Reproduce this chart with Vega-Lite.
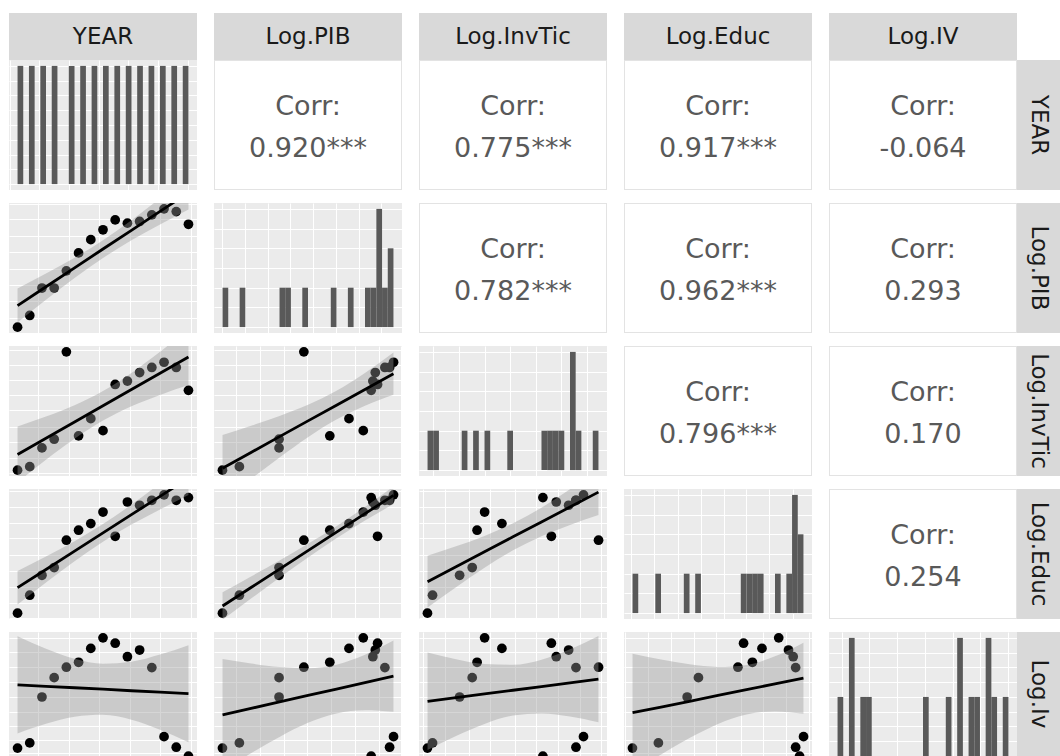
{
  "$schema": "https://vega.github.io/schema/vega-lite/v6.json",
  "padding": {"left": 9, "top": 13, "right": 0, "bottom": 0},
  "background": "white",
  "config": {
    "view": {"stroke": null},
    "font": "DejaVu Sans",
    "axis": {"grid": true, "gridColor": "white", "gridWidth": 1, "gridOpacity": 1, "labels": false, "ticks": false, "domain": false}
  },
  "datasets": {
    "obs": [
      {"YEAR": 2003, "PIB": 4.5, "InvTic": 4.5, "Educ": 4.5, "IV": 10.7},
      {"YEAR": 2004, "PIB": 13.5, "InvTic": 7.2, "Educ": 18.3, "IV": 14.7},
      {"YEAR": 2005, "PIB": 34.6, "InvTic": 21.6, "Educ": 33.6, "IV": 50.0},
      {"YEAR": 2006, "PIB": 34.6, "InvTic": 28.3, "Educ": 39.6, "IV": 64.9},
      {"YEAR": 2007, "PIB": 47.8, "InvTic": 95.5, "Educ": 60.6, "IV": 72.9},
      {"YEAR": 2008, "PIB": 61.6, "InvTic": 30.9, "Educ": 68.3, "IV": 76.7},
      {"YEAR": 2009, "PIB": 71.8, "InvTic": 44.1, "Educ": 73.4, "IV": 87.4},
      {"YEAR": 2010, "PIB": 79.4, "InvTic": 34.9, "Educ": 82.3, "IV": 95.5},
      {"YEAR": 2011, "PIB": 87.0, "InvTic": 70.4, "Educ": 63.6, "IV": 91.4},
      {"YEAR": 2012, "PIB": 84.5, "InvTic": 73.0, "Educ": 90.0, "IV": 81.0},
      {"YEAR": 2013, "PIB": 85.8, "InvTic": 79.6, "Educ": 87.5, "IV": 86.1},
      {"YEAR": 2014, "PIB": 90.9, "InvTic": 83.5, "Educ": 91.3, "IV": 72.6},
      {"YEAR": 2015, "PIB": 95.5, "InvTic": 87.5, "Educ": 95.5, "IV": 19.5},
      {"YEAR": 2016, "PIB": 93.4, "InvTic": 83.5, "Educ": 91.3, "IV": 11.4},
      {"YEAR": 2017, "PIB": 83.6, "InvTic": 65.9, "Educ": 93.4, "IV": 4.5}
    ],
    "fit": [
      {"p": "PIB~YEAR", "x": 2003, "fit": 21.1, "lo": 8.1, "hi": 34.2},
      {"p": "PIB~YEAR", "x": 2005.33, "fit": 35.6, "lo": 25.5, "hi": 45.7},
      {"p": "PIB~YEAR", "x": 2007.67, "fit": 50.1, "lo": 42.3, "hi": 57.9},
      {"p": "PIB~YEAR", "x": 2010, "fit": 64.6, "lo": 57.7, "hi": 71.4},
      {"p": "PIB~YEAR", "x": 2012.33, "fit": 79.0, "lo": 71.3, "hi": 86.8},
      {"p": "PIB~YEAR", "x": 2014.67, "fit": 93.5, "lo": 83.4, "hi": 103.6},
      {"p": "PIB~YEAR", "x": 2017, "fit": 108.0, "lo": 95.0, "hi": 121.0},
      {"p": "InvTic~YEAR", "x": 2003, "fit": 16.6, "lo": -4.9, "hi": 38.1},
      {"p": "InvTic~YEAR", "x": 2005.33, "fit": 29.1, "lo": 12.5, "hi": 45.7},
      {"p": "InvTic~YEAR", "x": 2007.67, "fit": 41.5, "lo": 28.7, "hi": 54.4},
      {"p": "InvTic~YEAR", "x": 2010, "fit": 54.0, "lo": 42.7, "hi": 65.3},
      {"p": "InvTic~YEAR", "x": 2012.33, "fit": 66.5, "lo": 53.7, "hi": 79.3},
      {"p": "InvTic~YEAR", "x": 2014.67, "fit": 79.0, "lo": 62.4, "hi": 95.6},
      {"p": "InvTic~YEAR", "x": 2017, "fit": 91.5, "lo": 70.0, "hi": 113.0},
      {"p": "InvTic~PIB", "x": 4.55, "fit": 6.0, "lo": -19.5, "hi": 31.5},
      {"p": "InvTic~PIB", "x": 19.7, "fit": 18.1, "lo": -2.3, "hi": 38.6},
      {"p": "InvTic~PIB", "x": 34.85, "fit": 30.3, "lo": 14.3, "hi": 46.2},
      {"p": "InvTic~PIB", "x": 50, "fit": 42.4, "lo": 29.9, "hi": 54.8},
      {"p": "InvTic~PIB", "x": 65.15, "fit": 54.5, "lo": 43.4, "hi": 65.6},
      {"p": "InvTic~PIB", "x": 80.3, "fit": 66.6, "lo": 54.0, "hi": 79.3},
      {"p": "InvTic~PIB", "x": 95.45, "fit": 78.7, "lo": 62.5, "hi": 95.0},
      {"p": "Educ~YEAR", "x": 2003, "fit": 24.1, "lo": 11.2, "hi": 37.0},
      {"p": "Educ~YEAR", "x": 2005.33, "fit": 38.1, "lo": 28.1, "hi": 48.1},
      {"p": "Educ~YEAR", "x": 2007.67, "fit": 52.2, "lo": 44.5, "hi": 59.9},
      {"p": "Educ~YEAR", "x": 2010, "fit": 66.2, "lo": 59.4, "hi": 73.0},
      {"p": "Educ~YEAR", "x": 2012.33, "fit": 80.3, "lo": 72.6, "hi": 88.0},
      {"p": "Educ~YEAR", "x": 2014.67, "fit": 94.3, "lo": 84.3, "hi": 104.3},
      {"p": "Educ~YEAR", "x": 2017, "fit": 108.4, "lo": 95.4, "hi": 121.3},
      {"p": "Educ~PIB", "x": 4.55, "fit": 10.0, "lo": -0.6, "hi": 20.6},
      {"p": "Educ~PIB", "x": 19.7, "fit": 24.2, "lo": 15.7, "hi": 32.7},
      {"p": "Educ~PIB", "x": 34.85, "fit": 38.4, "lo": 31.8, "hi": 45.0},
      {"p": "Educ~PIB", "x": 50, "fit": 52.6, "lo": 47.4, "hi": 57.8},
      {"p": "Educ~PIB", "x": 65.15, "fit": 66.8, "lo": 62.1, "hi": 71.4},
      {"p": "Educ~PIB", "x": 80.3, "fit": 81.0, "lo": 75.7, "hi": 86.2},
      {"p": "Educ~PIB", "x": 95.45, "fit": 95.1, "lo": 88.4, "hi": 101.9},
      {"p": "Educ~InvTic", "x": 4.55, "fit": 28.7, "lo": 8.8, "hi": 48.7},
      {"p": "Educ~InvTic", "x": 19.7, "fit": 40.2, "lo": 24.5, "hi": 55.9},
      {"p": "Educ~InvTic", "x": 34.85, "fit": 51.7, "lo": 39.5, "hi": 63.9},
      {"p": "Educ~InvTic", "x": 50, "fit": 63.2, "lo": 52.8, "hi": 73.6},
      {"p": "Educ~InvTic", "x": 65.15, "fit": 74.6, "lo": 63.7, "hi": 85.6},
      {"p": "Educ~InvTic", "x": 80.3, "fit": 86.1, "lo": 72.4, "hi": 99.8},
      {"p": "Educ~InvTic", "x": 95.45, "fit": 97.6, "lo": 80.0, "hi": 115.2},
      {"p": "IV~YEAR", "x": 2003, "fit": 59.4, "lo": 22.0, "hi": 96.7},
      {"p": "IV~YEAR", "x": 2005.33, "fit": 58.2, "lo": 29.4, "hi": 87.1},
      {"p": "IV~YEAR", "x": 2007.67, "fit": 57.1, "lo": 34.8, "hi": 79.4},
      {"p": "IV~YEAR", "x": 2010, "fit": 56.0, "lo": 36.3, "hi": 75.6},
      {"p": "IV~YEAR", "x": 2012.33, "fit": 54.8, "lo": 32.5, "hi": 77.1},
      {"p": "IV~YEAR", "x": 2014.67, "fit": 53.7, "lo": 24.8, "hi": 82.6},
      {"p": "IV~YEAR", "x": 2017, "fit": 52.6, "lo": 15.2, "hi": 89.9},
      {"p": "IV~PIB", "x": 4.55, "fit": 36.2, "lo": -6.8, "hi": 79.2},
      {"p": "IV~PIB", "x": 19.7, "fit": 41.2, "lo": 6.7, "hi": 75.7},
      {"p": "IV~PIB", "x": 34.85, "fit": 46.2, "lo": 19.3, "hi": 73.0},
      {"p": "IV~PIB", "x": 50, "fit": 51.2, "lo": 30.1, "hi": 72.2},
      {"p": "IV~PIB", "x": 65.15, "fit": 56.1, "lo": 37.3, "hi": 74.9},
      {"p": "IV~PIB", "x": 80.3, "fit": 61.1, "lo": 39.8, "hi": 82.5},
      {"p": "IV~PIB", "x": 95.45, "fit": 66.1, "lo": 38.7, "hi": 93.5},
      {"p": "IV~InvTic", "x": 4.55, "fit": 46.7, "lo": 9.2, "hi": 84.2},
      {"p": "IV~InvTic", "x": 19.7, "fit": 49.5, "lo": 20.0, "hi": 79.1},
      {"p": "IV~InvTic", "x": 34.85, "fit": 52.4, "lo": 29.3, "hi": 75.4},
      {"p": "IV~InvTic", "x": 50, "fit": 55.2, "lo": 35.7, "hi": 74.8},
      {"p": "IV~InvTic", "x": 65.15, "fit": 58.0, "lo": 37.3, "hi": 78.7},
      {"p": "IV~InvTic", "x": 80.3, "fit": 60.9, "lo": 35.0, "hi": 86.7},
      {"p": "IV~InvTic", "x": 95.45, "fit": 63.7, "lo": 30.6, "hi": 96.9},
      {"p": "IV~Educ", "x": 4.55, "fit": 37.9, "lo": -7.6, "hi": 83.3},
      {"p": "IV~Educ", "x": 19.7, "fit": 42.3, "lo": 5.8, "hi": 78.8},
      {"p": "IV~Educ", "x": 34.85, "fit": 46.7, "lo": 18.4, "hi": 75.1},
      {"p": "IV~Educ", "x": 50, "fit": 51.2, "lo": 29.3, "hi": 73.1},
      {"p": "IV~Educ", "x": 65.15, "fit": 55.6, "lo": 36.6, "hi": 74.7},
      {"p": "IV~Educ", "x": 80.3, "fit": 60.1, "lo": 38.9, "hi": 81.3},
      {"p": "IV~Educ", "x": 95.45, "fit": 64.5, "lo": 37.2, "hi": 91.8}
    ],
    "hist": [
      {"v": "YEAR", "bin": 0, "bin_end": 1, "count": 1},
      {"v": "YEAR", "bin": 2, "bin_end": 3, "count": 1},
      {"v": "YEAR", "bin": 4, "bin_end": 5, "count": 1},
      {"v": "YEAR", "bin": 6, "bin_end": 7, "count": 1},
      {"v": "YEAR", "bin": 9, "bin_end": 10, "count": 1},
      {"v": "YEAR", "bin": 11, "bin_end": 12, "count": 1},
      {"v": "YEAR", "bin": 13, "bin_end": 14, "count": 1},
      {"v": "YEAR", "bin": 15, "bin_end": 16, "count": 1},
      {"v": "YEAR", "bin": 17, "bin_end": 18, "count": 1},
      {"v": "YEAR", "bin": 19, "bin_end": 20, "count": 1},
      {"v": "YEAR", "bin": 21, "bin_end": 22, "count": 1},
      {"v": "YEAR", "bin": 23, "bin_end": 24, "count": 1},
      {"v": "YEAR", "bin": 25, "bin_end": 26, "count": 1},
      {"v": "YEAR", "bin": 27, "bin_end": 28, "count": 1},
      {"v": "YEAR", "bin": 29, "bin_end": 30, "count": 1},
      {"v": "PIB", "bin": 0, "bin_end": 1, "count": 1},
      {"v": "PIB", "bin": 3, "bin_end": 4, "count": 1},
      {"v": "PIB", "bin": 10, "bin_end": 11, "count": 1},
      {"v": "PIB", "bin": 11, "bin_end": 12, "count": 1},
      {"v": "PIB", "bin": 14, "bin_end": 15, "count": 1},
      {"v": "PIB", "bin": 19, "bin_end": 20, "count": 1},
      {"v": "PIB", "bin": 22, "bin_end": 23, "count": 1},
      {"v": "PIB", "bin": 25, "bin_end": 26, "count": 1},
      {"v": "PIB", "bin": 26, "bin_end": 27, "count": 1},
      {"v": "PIB", "bin": 27, "bin_end": 28, "count": 3},
      {"v": "PIB", "bin": 28, "bin_end": 29, "count": 1},
      {"v": "PIB", "bin": 29, "bin_end": 30, "count": 2},
      {"v": "InvTic", "bin": 0, "bin_end": 1, "count": 1},
      {"v": "InvTic", "bin": 1, "bin_end": 2, "count": 1},
      {"v": "InvTic", "bin": 6, "bin_end": 7, "count": 1},
      {"v": "InvTic", "bin": 8, "bin_end": 9, "count": 1},
      {"v": "InvTic", "bin": 10, "bin_end": 11, "count": 1},
      {"v": "InvTic", "bin": 14, "bin_end": 15, "count": 1},
      {"v": "InvTic", "bin": 20, "bin_end": 21, "count": 1},
      {"v": "InvTic", "bin": 21, "bin_end": 22, "count": 1},
      {"v": "InvTic", "bin": 22, "bin_end": 23, "count": 1},
      {"v": "InvTic", "bin": 23, "bin_end": 24, "count": 1},
      {"v": "InvTic", "bin": 25, "bin_end": 26, "count": 3},
      {"v": "InvTic", "bin": 26, "bin_end": 27, "count": 1},
      {"v": "InvTic", "bin": 29, "bin_end": 30, "count": 1},
      {"v": "Educ", "bin": 0, "bin_end": 1, "count": 1},
      {"v": "Educ", "bin": 4, "bin_end": 5, "count": 1},
      {"v": "Educ", "bin": 9, "bin_end": 10, "count": 1},
      {"v": "Educ", "bin": 11, "bin_end": 12, "count": 1},
      {"v": "Educ", "bin": 19, "bin_end": 20, "count": 1},
      {"v": "Educ", "bin": 20, "bin_end": 21, "count": 1},
      {"v": "Educ", "bin": 21, "bin_end": 22, "count": 1},
      {"v": "Educ", "bin": 22, "bin_end": 23, "count": 1},
      {"v": "Educ", "bin": 25, "bin_end": 26, "count": 1},
      {"v": "Educ", "bin": 27, "bin_end": 28, "count": 1},
      {"v": "Educ", "bin": 28, "bin_end": 29, "count": 3},
      {"v": "Educ", "bin": 29, "bin_end": 30, "count": 2},
      {"v": "IV", "bin": 0, "bin_end": 1, "count": 1},
      {"v": "IV", "bin": 2, "bin_end": 3, "count": 2},
      {"v": "IV", "bin": 4, "bin_end": 5, "count": 1},
      {"v": "IV", "bin": 5, "bin_end": 6, "count": 1},
      {"v": "IV", "bin": 15, "bin_end": 16, "count": 1},
      {"v": "IV", "bin": 19, "bin_end": 20, "count": 1},
      {"v": "IV", "bin": 21, "bin_end": 22, "count": 2},
      {"v": "IV", "bin": 23, "bin_end": 24, "count": 1},
      {"v": "IV", "bin": 24, "bin_end": 25, "count": 1},
      {"v": "IV", "bin": 26, "bin_end": 27, "count": 2},
      {"v": "IV", "bin": 27, "bin_end": 28, "count": 1},
      {"v": "IV", "bin": 29, "bin_end": 30, "count": 1}
    ],
    "corr": [
      {"p": "YEAR~PIB", "label": "Corr:\n0.920***"},
      {"p": "YEAR~InvTic", "label": "Corr:\n0.775***"},
      {"p": "YEAR~Educ", "label": "Corr:\n0.917***"},
      {"p": "YEAR~IV", "label": "Corr:\n-0.064"},
      {"p": "PIB~InvTic", "label": "Corr:\n0.782***"},
      {"p": "PIB~Educ", "label": "Corr:\n0.962***"},
      {"p": "PIB~IV", "label": "Corr:\n0.293"},
      {"p": "InvTic~Educ", "label": "Corr:\n0.796***"},
      {"p": "InvTic~IV", "label": "Corr:\n0.170"},
      {"p": "Educ~IV", "label": "Corr:\n0.254"}
    ],
    "strips": [
      {"id": "c1", "label": "YEAR"},
      {"id": "c2", "label": "Log.PIB"},
      {"id": "c3", "label": "Log.InvTic"},
      {"id": "c4", "label": "Log.Educ"},
      {"id": "c5", "label": "Log.IV"},
      {"id": "r1", "label": "YEAR"},
      {"id": "r2", "label": "Log.PIB"},
      {"id": "r3", "label": "Log.InvTic"},
      {"id": "r4", "label": "Log.Educ"},
      {"id": "r5", "label": "Log.Iv"}
    ]
  },
  "vconcat": [
    {
      "vconcat": [
        {
          "hconcat": [
            {"width": 188, "height": 47, "view": {"fill": "#D9D9D9", "stroke": null}, "data": {"name": "strips"}, "transform": [{"filter": "datum.id == 'c1'"}], "mark": {"type": "text", "font": "DejaVu Sans", "fontSize": 23, "color": "#1A1A1A", "align": "center", "baseline": "middle"}, "encoding": {"text": {"field": "label"}}},
            {"width": 188, "height": 47, "view": {"fill": "#D9D9D9", "stroke": null}, "data": {"name": "strips"}, "transform": [{"filter": "datum.id == 'c2'"}], "mark": {"type": "text", "font": "DejaVu Sans", "fontSize": 23, "color": "#1A1A1A", "align": "center", "baseline": "middle"}, "encoding": {"text": {"field": "label"}}},
            {"width": 188, "height": 47, "view": {"fill": "#D9D9D9", "stroke": null}, "data": {"name": "strips"}, "transform": [{"filter": "datum.id == 'c3'"}], "mark": {"type": "text", "font": "DejaVu Sans", "fontSize": 23, "color": "#1A1A1A", "align": "center", "baseline": "middle"}, "encoding": {"text": {"field": "label"}}},
            {"width": 188, "height": 47, "view": {"fill": "#D9D9D9", "stroke": null}, "data": {"name": "strips"}, "transform": [{"filter": "datum.id == 'c4'"}], "mark": {"type": "text", "font": "DejaVu Sans", "fontSize": 23, "color": "#1A1A1A", "align": "center", "baseline": "middle"}, "encoding": {"text": {"field": "label"}}},
            {"width": 188, "height": 47, "view": {"fill": "#D9D9D9", "stroke": null}, "data": {"name": "strips"}, "transform": [{"filter": "datum.id == 'c5'"}], "mark": {"type": "text", "font": "DejaVu Sans", "fontSize": 23, "color": "#1A1A1A", "align": "center", "baseline": "middle"}, "encoding": {"text": {"field": "label"}}}
          ],
          "spacing": 17
        },
        {
          "hconcat": [
            {"width": 188, "height": 130, "view": {"fill": "#EBEBEB", "stroke": null}, "data": {"name": "hist"}, "transform": [{"filter": "datum.v == 'YEAR'"}],
             "mark": {"type": "rect", "color": "#595959", "clip": true},
             "encoding": {
               "x": {"field": "bin", "type": "quantitative", "scale": {"domain": [-1.5, 31.5], "nice": false, "zero": false}, "axis": {"values": [-1.35, 3.85, 9.05, 14.25, 19.45, 24.65, 29.85], "title": null}},
               "x2": {"field": "bin_end"},
               "y": {"field": "count", "type": "quantitative", "scale": {"domain": [-0.05, 1.05], "nice": false, "zero": false}, "axis": {"values": [0, 0.125, 0.25, 0.375, 0.5, 0.625, 0.75, 0.875, 1], "title": null}},
               "y2": {"datum": 0}}},
            {"width": 188, "height": 130, "view": {"fill": "white", "stroke": null}, "data": {"name": "corr"}, "transform": [{"filter": "datum.p == 'YEAR~PIB'"}],
             "layer": [
               {"mark": {"type": "rect", "fill": "white", "stroke": "#E3E3E3", "strokeWidth": 2, "clip": true}, "encoding": {}},
               {"mark": {"type": "text", "font": "DejaVu Sans", "fontSize": 27, "color": "#595959", "lineBreak": "\n", "lineHeight": 42, "dy": -18, "align": "center", "baseline": "middle"}, "encoding": {"text": {"field": "label"}}}
             ]},
            {"width": 188, "height": 130, "view": {"fill": "white", "stroke": null}, "data": {"name": "corr"}, "transform": [{"filter": "datum.p == 'YEAR~InvTic'"}],
             "layer": [
               {"mark": {"type": "rect", "fill": "white", "stroke": "#E3E3E3", "strokeWidth": 2, "clip": true}, "encoding": {}},
               {"mark": {"type": "text", "font": "DejaVu Sans", "fontSize": 27, "color": "#595959", "lineBreak": "\n", "lineHeight": 42, "dy": -18, "align": "center", "baseline": "middle"}, "encoding": {"text": {"field": "label"}}}
             ]},
            {"width": 188, "height": 130, "view": {"fill": "white", "stroke": null}, "data": {"name": "corr"}, "transform": [{"filter": "datum.p == 'YEAR~Educ'"}],
             "layer": [
               {"mark": {"type": "rect", "fill": "white", "stroke": "#E3E3E3", "strokeWidth": 2, "clip": true}, "encoding": {}},
               {"mark": {"type": "text", "font": "DejaVu Sans", "fontSize": 27, "color": "#595959", "lineBreak": "\n", "lineHeight": 42, "dy": -18, "align": "center", "baseline": "middle"}, "encoding": {"text": {"field": "label"}}}
             ]},
            {
              "hconcat": [
                {"width": 188, "height": 130, "view": {"fill": "white", "stroke": null}, "data": {"name": "corr"}, "transform": [{"filter": "datum.p == 'YEAR~IV'"}],
                 "layer": [
                   {"mark": {"type": "rect", "fill": "white", "stroke": "#E3E3E3", "strokeWidth": 2, "clip": true}, "encoding": {}},
                   {"mark": {"type": "text", "font": "DejaVu Sans", "fontSize": 27, "color": "#595959", "lineBreak": "\n", "lineHeight": 42, "dy": -18, "align": "center", "baseline": "middle"}, "encoding": {"text": {"field": "label"}}}
                 ]},
                {"width": 43, "height": 130, "view": {"fill": "#D9D9D9", "stroke": null}, "data": {"name": "strips"}, "transform": [{"filter": "datum.id == 'r1'"}], "mark": {"type": "text", "font": "DejaVu Sans", "fontSize": 23, "color": "#1A1A1A", "angle": 90, "align": "center", "baseline": "middle"}, "encoding": {"text": {"field": "label"}}}
              ],
              "spacing": 0
            }
          ],
          "spacing": 17
        }
      ],
      "spacing": 0
    },
    {
      "hconcat": [
        {"width": 188, "height": 130, "view": {"fill": "#EBEBEB", "stroke": null},
         "layer": [
           {"data": {"name": "obs"}, "mark": {"type": "circle", "size": 95, "color": "#000000", "opacity": 1, "clip": true},
            "encoding": {"x": {"field": "YEAR", "type": "quantitative", "scale": {"domain": [2002.3, 2017.7], "nice": false, "zero": false}, "axis": {"values": [2004.7, 2007.2, 2009.7, 2012.2, 2014.7, 2017.2], "title": null}},
                         "y": {"field": "PIB", "type": "quantitative", "scale": {"domain": [0, 100], "nice": false, "zero": false}, "axis": {"values": [11.7, 24.4, 37.0, 49.6, 62.3, 75.0, 87.6, 99.3], "title": null}}}},
           {"data": {"name": "fit"}, "transform": [{"filter": "datum.p == 'PIB~YEAR'"}], "mark": {"type": "area", "color": "#999999", "opacity": 0.4, "interpolate": "monotone", "clip": true},
            "encoding": {"x": {"field": "x", "type": "quantitative", "scale": {"domain": [2002.3, 2017.7], "nice": false, "zero": false}, "axis": {"values": [2004.7, 2007.2, 2009.7, 2012.2, 2014.7, 2017.2], "title": null}},
                         "y": {"field": "lo", "type": "quantitative", "scale": {"domain": [0, 100], "nice": false, "zero": false}, "axis": {"values": [11.7, 24.4, 37.0, 49.6, 62.3, 75.0, 87.6, 99.3], "title": null}}, "y2": {"field": "hi"}}},
           {"data": {"name": "fit"}, "transform": [{"filter": "datum.p == 'PIB~YEAR'"}], "mark": {"type": "line", "color": "#000000", "strokeWidth": 2.8, "clip": true},
            "encoding": {"x": {"field": "x", "type": "quantitative", "scale": {"domain": [2002.3, 2017.7], "nice": false, "zero": false}, "axis": {"values": [2004.7, 2007.2, 2009.7, 2012.2, 2014.7, 2017.2], "title": null}},
                         "y": {"field": "fit", "type": "quantitative", "scale": {"domain": [0, 100], "nice": false, "zero": false}, "axis": {"values": [11.7, 24.4, 37.0, 49.6, 62.3, 75.0, 87.6, 99.3], "title": null}}}}
         ]},
        {"width": 188, "height": 130, "view": {"fill": "#EBEBEB", "stroke": null}, "data": {"name": "hist"}, "transform": [{"filter": "datum.v == 'PIB'"}],
         "mark": {"type": "rect", "color": "#595959", "clip": true},
         "encoding": {
           "x": {"field": "bin", "type": "quantitative", "scale": {"domain": [-1.5, 31.5], "nice": false, "zero": false}, "axis": {"values": [-0.1, 3.9, 7.9, 11.9, 15.9, 19.9, 23.9, 27.9], "title": null}},
           "x2": {"field": "bin_end"},
           "y": {"field": "count", "type": "quantitative", "scale": {"domain": [-0.15, 3.15], "nice": false, "zero": false}, "axis": {"values": [0, 0.5, 1, 1.5, 2, 2.5, 3], "title": null}},
           "y2": {"datum": 0}}},
        {"width": 188, "height": 130, "view": {"fill": "white", "stroke": null}, "data": {"name": "corr"}, "transform": [{"filter": "datum.p == 'PIB~InvTic'"}],
         "layer": [
           {"mark": {"type": "rect", "fill": "white", "stroke": "#E3E3E3", "strokeWidth": 2, "clip": true}, "encoding": {}},
           {"mark": {"type": "text", "font": "DejaVu Sans", "fontSize": 27, "color": "#595959", "lineBreak": "\n", "lineHeight": 42, "dy": -18, "align": "center", "baseline": "middle"}, "encoding": {"text": {"field": "label"}}}
         ]},
        {"width": 188, "height": 130, "view": {"fill": "white", "stroke": null}, "data": {"name": "corr"}, "transform": [{"filter": "datum.p == 'PIB~Educ'"}],
         "layer": [
           {"mark": {"type": "rect", "fill": "white", "stroke": "#E3E3E3", "strokeWidth": 2, "clip": true}, "encoding": {}},
           {"mark": {"type": "text", "font": "DejaVu Sans", "fontSize": 27, "color": "#595959", "lineBreak": "\n", "lineHeight": 42, "dy": -18, "align": "center", "baseline": "middle"}, "encoding": {"text": {"field": "label"}}}
         ]},
        {
          "hconcat": [
            {"width": 188, "height": 130, "view": {"fill": "white", "stroke": null}, "data": {"name": "corr"}, "transform": [{"filter": "datum.p == 'PIB~IV'"}],
             "layer": [
               {"mark": {"type": "rect", "fill": "white", "stroke": "#E3E3E3", "strokeWidth": 2, "clip": true}, "encoding": {}},
               {"mark": {"type": "text", "font": "DejaVu Sans", "fontSize": 27, "color": "#595959", "lineBreak": "\n", "lineHeight": 42, "dy": -18, "align": "center", "baseline": "middle"}, "encoding": {"text": {"field": "label"}}}
             ]},
            {"width": 43, "height": 130, "view": {"fill": "#D9D9D9", "stroke": null}, "data": {"name": "strips"}, "transform": [{"filter": "datum.id == 'r2'"}], "mark": {"type": "text", "font": "DejaVu Sans", "fontSize": 23, "color": "#1A1A1A", "angle": 90, "align": "center", "baseline": "middle"}, "encoding": {"text": {"field": "label"}}}
          ],
          "spacing": 0
        }
      ],
      "spacing": 17
    },
    {
      "hconcat": [
        {"width": 188, "height": 130, "view": {"fill": "#EBEBEB", "stroke": null},
         "layer": [
           {"data": {"name": "obs"}, "mark": {"type": "circle", "size": 95, "color": "#000000", "opacity": 1, "clip": true},
            "encoding": {"x": {"field": "YEAR", "type": "quantitative", "scale": {"domain": [2002.3, 2017.7], "nice": false, "zero": false}, "axis": {"values": [2004.7, 2007.2, 2009.7, 2012.2, 2014.7, 2017.2], "title": null}},
                         "y": {"field": "InvTic", "type": "quantitative", "scale": {"domain": [0, 100], "nice": false, "zero": false}, "axis": {"values": [2.1, 13.6, 26.4, 37.9, 50.8, 62.3, 73.8, 85.4, 97.0], "title": null}}}},
           {"data": {"name": "fit"}, "transform": [{"filter": "datum.p == 'InvTic~YEAR'"}], "mark": {"type": "area", "color": "#999999", "opacity": 0.4, "interpolate": "monotone", "clip": true},
            "encoding": {"x": {"field": "x", "type": "quantitative", "scale": {"domain": [2002.3, 2017.7], "nice": false, "zero": false}, "axis": {"values": [2004.7, 2007.2, 2009.7, 2012.2, 2014.7, 2017.2], "title": null}},
                         "y": {"field": "lo", "type": "quantitative", "scale": {"domain": [0, 100], "nice": false, "zero": false}, "axis": {"values": [2.1, 13.6, 26.4, 37.9, 50.8, 62.3, 73.8, 85.4, 97.0], "title": null}}, "y2": {"field": "hi"}}},
           {"data": {"name": "fit"}, "transform": [{"filter": "datum.p == 'InvTic~YEAR'"}], "mark": {"type": "line", "color": "#000000", "strokeWidth": 2.8, "clip": true},
            "encoding": {"x": {"field": "x", "type": "quantitative", "scale": {"domain": [2002.3, 2017.7], "nice": false, "zero": false}, "axis": {"values": [2004.7, 2007.2, 2009.7, 2012.2, 2014.7, 2017.2], "title": null}},
                         "y": {"field": "fit", "type": "quantitative", "scale": {"domain": [0, 100], "nice": false, "zero": false}, "axis": {"values": [2.1, 13.6, 26.4, 37.9, 50.8, 62.3, 73.8, 85.4, 97.0], "title": null}}}}
         ]},
        {"width": 188, "height": 130, "view": {"fill": "#EBEBEB", "stroke": null},
         "layer": [
           {"data": {"name": "obs"}, "mark": {"type": "circle", "size": 95, "color": "#000000", "opacity": 1, "clip": true},
            "encoding": {"x": {"field": "PIB", "type": "quantitative", "scale": {"domain": [0, 100], "nice": false, "zero": false}, "axis": {"values": [11.7, 24.4, 37.0, 49.6, 62.3, 75.0, 87.6, 99.3], "title": null}},
                         "y": {"field": "InvTic", "type": "quantitative", "scale": {"domain": [0, 100], "nice": false, "zero": false}, "axis": {"values": [2.1, 13.6, 26.4, 37.9, 50.8, 62.3, 73.8, 85.4, 97.0], "title": null}}}},
           {"data": {"name": "fit"}, "transform": [{"filter": "datum.p == 'InvTic~PIB'"}], "mark": {"type": "area", "color": "#999999", "opacity": 0.4, "interpolate": "monotone", "clip": true},
            "encoding": {"x": {"field": "x", "type": "quantitative", "scale": {"domain": [0, 100], "nice": false, "zero": false}, "axis": {"values": [11.7, 24.4, 37.0, 49.6, 62.3, 75.0, 87.6, 99.3], "title": null}},
                         "y": {"field": "lo", "type": "quantitative", "scale": {"domain": [0, 100], "nice": false, "zero": false}, "axis": {"values": [2.1, 13.6, 26.4, 37.9, 50.8, 62.3, 73.8, 85.4, 97.0], "title": null}}, "y2": {"field": "hi"}}},
           {"data": {"name": "fit"}, "transform": [{"filter": "datum.p == 'InvTic~PIB'"}], "mark": {"type": "line", "color": "#000000", "strokeWidth": 2.8, "clip": true},
            "encoding": {"x": {"field": "x", "type": "quantitative", "scale": {"domain": [0, 100], "nice": false, "zero": false}, "axis": {"values": [11.7, 24.4, 37.0, 49.6, 62.3, 75.0, 87.6, 99.3], "title": null}},
                         "y": {"field": "fit", "type": "quantitative", "scale": {"domain": [0, 100], "nice": false, "zero": false}, "axis": {"values": [2.1, 13.6, 26.4, 37.9, 50.8, 62.3, 73.8, 85.4, 97.0], "title": null}}}}
         ]},
        {"width": 188, "height": 130, "view": {"fill": "#EBEBEB", "stroke": null}, "data": {"name": "hist"}, "transform": [{"filter": "datum.v == 'InvTic'"}],
         "mark": {"type": "rect", "color": "#595959", "clip": true},
         "encoding": {
           "x": {"field": "bin", "type": "quantitative", "scale": {"domain": [-1.5, 31.5], "nice": false, "zero": false}, "axis": {"values": [1, 5.5, 10, 14.5, 19, 23.5, 28], "title": null}},
           "x2": {"field": "bin_end"},
           "y": {"field": "count", "type": "quantitative", "scale": {"domain": [-0.15, 3.15], "nice": false, "zero": false}, "axis": {"values": [0, 0.5, 1, 1.5, 2, 2.5, 3], "title": null}},
           "y2": {"datum": 0}}},
        {"width": 188, "height": 130, "view": {"fill": "white", "stroke": null}, "data": {"name": "corr"}, "transform": [{"filter": "datum.p == 'InvTic~Educ'"}],
         "layer": [
           {"mark": {"type": "rect", "fill": "white", "stroke": "#E3E3E3", "strokeWidth": 2, "clip": true}, "encoding": {}},
           {"mark": {"type": "text", "font": "DejaVu Sans", "fontSize": 27, "color": "#595959", "lineBreak": "\n", "lineHeight": 42, "dy": -18, "align": "center", "baseline": "middle"}, "encoding": {"text": {"field": "label"}}}
         ]},
        {
          "hconcat": [
            {"width": 188, "height": 130, "view": {"fill": "white", "stroke": null}, "data": {"name": "corr"}, "transform": [{"filter": "datum.p == 'InvTic~IV'"}],
             "layer": [
               {"mark": {"type": "rect", "fill": "white", "stroke": "#E3E3E3", "strokeWidth": 2, "clip": true}, "encoding": {}},
               {"mark": {"type": "text", "font": "DejaVu Sans", "fontSize": 27, "color": "#595959", "lineBreak": "\n", "lineHeight": 42, "dy": -18, "align": "center", "baseline": "middle"}, "encoding": {"text": {"field": "label"}}}
             ]},
            {"width": 43, "height": 130, "view": {"fill": "#D9D9D9", "stroke": null}, "data": {"name": "strips"}, "transform": [{"filter": "datum.id == 'r3'"}], "mark": {"type": "text", "font": "DejaVu Sans", "fontSize": 23, "color": "#1A1A1A", "angle": 90, "align": "center", "baseline": "middle"}, "encoding": {"text": {"field": "label"}}}
          ],
          "spacing": 0
        }
      ],
      "spacing": 17
    },
    {
      "hconcat": [
        {"width": 188, "height": 130, "view": {"fill": "#EBEBEB", "stroke": null},
         "layer": [
           {"data": {"name": "obs"}, "mark": {"type": "circle", "size": 95, "color": "#000000", "opacity": 1, "clip": true},
            "encoding": {"x": {"field": "YEAR", "type": "quantitative", "scale": {"domain": [2002.3, 2017.7], "nice": false, "zero": false}, "axis": {"values": [2004.7, 2007.2, 2009.7, 2012.2, 2014.7, 2017.2], "title": null}},
                         "y": {"field": "Educ", "type": "quantitative", "scale": {"domain": [0, 100], "nice": false, "zero": false}, "axis": {"values": [0.5, 12.5, 24.9, 37.2, 49.2, 62.1, 74.1, 86.4, 98.6], "title": null}}}},
           {"data": {"name": "fit"}, "transform": [{"filter": "datum.p == 'Educ~YEAR'"}], "mark": {"type": "area", "color": "#999999", "opacity": 0.4, "interpolate": "monotone", "clip": true},
            "encoding": {"x": {"field": "x", "type": "quantitative", "scale": {"domain": [2002.3, 2017.7], "nice": false, "zero": false}, "axis": {"values": [2004.7, 2007.2, 2009.7, 2012.2, 2014.7, 2017.2], "title": null}},
                         "y": {"field": "lo", "type": "quantitative", "scale": {"domain": [0, 100], "nice": false, "zero": false}, "axis": {"values": [0.5, 12.5, 24.9, 37.2, 49.2, 62.1, 74.1, 86.4, 98.6], "title": null}}, "y2": {"field": "hi"}}},
           {"data": {"name": "fit"}, "transform": [{"filter": "datum.p == 'Educ~YEAR'"}], "mark": {"type": "line", "color": "#000000", "strokeWidth": 2.8, "clip": true},
            "encoding": {"x": {"field": "x", "type": "quantitative", "scale": {"domain": [2002.3, 2017.7], "nice": false, "zero": false}, "axis": {"values": [2004.7, 2007.2, 2009.7, 2012.2, 2014.7, 2017.2], "title": null}},
                         "y": {"field": "fit", "type": "quantitative", "scale": {"domain": [0, 100], "nice": false, "zero": false}, "axis": {"values": [0.5, 12.5, 24.9, 37.2, 49.2, 62.1, 74.1, 86.4, 98.6], "title": null}}}}
         ]},
        {"width": 188, "height": 130, "view": {"fill": "#EBEBEB", "stroke": null},
         "layer": [
           {"data": {"name": "obs"}, "mark": {"type": "circle", "size": 95, "color": "#000000", "opacity": 1, "clip": true},
            "encoding": {"x": {"field": "PIB", "type": "quantitative", "scale": {"domain": [0, 100], "nice": false, "zero": false}, "axis": {"values": [11.7, 24.4, 37.0, 49.6, 62.3, 75.0, 87.6, 99.3], "title": null}},
                         "y": {"field": "Educ", "type": "quantitative", "scale": {"domain": [0, 100], "nice": false, "zero": false}, "axis": {"values": [0.5, 12.5, 24.9, 37.2, 49.2, 62.1, 74.1, 86.4, 98.6], "title": null}}}},
           {"data": {"name": "fit"}, "transform": [{"filter": "datum.p == 'Educ~PIB'"}], "mark": {"type": "area", "color": "#999999", "opacity": 0.4, "interpolate": "monotone", "clip": true},
            "encoding": {"x": {"field": "x", "type": "quantitative", "scale": {"domain": [0, 100], "nice": false, "zero": false}, "axis": {"values": [11.7, 24.4, 37.0, 49.6, 62.3, 75.0, 87.6, 99.3], "title": null}},
                         "y": {"field": "lo", "type": "quantitative", "scale": {"domain": [0, 100], "nice": false, "zero": false}, "axis": {"values": [0.5, 12.5, 24.9, 37.2, 49.2, 62.1, 74.1, 86.4, 98.6], "title": null}}, "y2": {"field": "hi"}}},
           {"data": {"name": "fit"}, "transform": [{"filter": "datum.p == 'Educ~PIB'"}], "mark": {"type": "line", "color": "#000000", "strokeWidth": 2.8, "clip": true},
            "encoding": {"x": {"field": "x", "type": "quantitative", "scale": {"domain": [0, 100], "nice": false, "zero": false}, "axis": {"values": [11.7, 24.4, 37.0, 49.6, 62.3, 75.0, 87.6, 99.3], "title": null}},
                         "y": {"field": "fit", "type": "quantitative", "scale": {"domain": [0, 100], "nice": false, "zero": false}, "axis": {"values": [0.5, 12.5, 24.9, 37.2, 49.2, 62.1, 74.1, 86.4, 98.6], "title": null}}}}
         ]},
        {"width": 188, "height": 130, "view": {"fill": "#EBEBEB", "stroke": null},
         "layer": [
           {"data": {"name": "obs"}, "mark": {"type": "circle", "size": 95, "color": "#000000", "opacity": 1, "clip": true},
            "encoding": {"x": {"field": "InvTic", "type": "quantitative", "scale": {"domain": [0, 100], "nice": false, "zero": false}, "axis": {"values": [2.1, 13.6, 26.4, 37.9, 50.8, 62.3, 73.8, 85.4, 97.0], "title": null}},
                         "y": {"field": "Educ", "type": "quantitative", "scale": {"domain": [0, 100], "nice": false, "zero": false}, "axis": {"values": [0.5, 12.5, 24.9, 37.2, 49.2, 62.1, 74.1, 86.4, 98.6], "title": null}}}},
           {"data": {"name": "fit"}, "transform": [{"filter": "datum.p == 'Educ~InvTic'"}], "mark": {"type": "area", "color": "#999999", "opacity": 0.4, "interpolate": "monotone", "clip": true},
            "encoding": {"x": {"field": "x", "type": "quantitative", "scale": {"domain": [0, 100], "nice": false, "zero": false}, "axis": {"values": [2.1, 13.6, 26.4, 37.9, 50.8, 62.3, 73.8, 85.4, 97.0], "title": null}},
                         "y": {"field": "lo", "type": "quantitative", "scale": {"domain": [0, 100], "nice": false, "zero": false}, "axis": {"values": [0.5, 12.5, 24.9, 37.2, 49.2, 62.1, 74.1, 86.4, 98.6], "title": null}}, "y2": {"field": "hi"}}},
           {"data": {"name": "fit"}, "transform": [{"filter": "datum.p == 'Educ~InvTic'"}], "mark": {"type": "line", "color": "#000000", "strokeWidth": 2.8, "clip": true},
            "encoding": {"x": {"field": "x", "type": "quantitative", "scale": {"domain": [0, 100], "nice": false, "zero": false}, "axis": {"values": [2.1, 13.6, 26.4, 37.9, 50.8, 62.3, 73.8, 85.4, 97.0], "title": null}},
                         "y": {"field": "fit", "type": "quantitative", "scale": {"domain": [0, 100], "nice": false, "zero": false}, "axis": {"values": [0.5, 12.5, 24.9, 37.2, 49.2, 62.1, 74.1, 86.4, 98.6], "title": null}}}}
         ]},
        {"width": 188, "height": 130, "view": {"fill": "#EBEBEB", "stroke": null}, "data": {"name": "hist"}, "transform": [{"filter": "datum.v == 'Educ'"}],
         "mark": {"type": "rect", "color": "#595959", "clip": true},
         "encoding": {
           "x": {"field": "bin", "type": "quantitative", "scale": {"domain": [-1.5, 31.5], "nice": false, "zero": false}, "axis": {"values": [-0.3, 3.8, 7.9, 12, 16, 20, 24, 28.1], "title": null}},
           "x2": {"field": "bin_end"},
           "y": {"field": "count", "type": "quantitative", "scale": {"domain": [-0.15, 3.15], "nice": false, "zero": false}, "axis": {"values": [0, 0.5, 1, 1.5, 2, 2.5, 3], "title": null}},
           "y2": {"datum": 0}}},
        {
          "hconcat": [
            {"width": 188, "height": 130, "view": {"fill": "white", "stroke": null}, "data": {"name": "corr"}, "transform": [{"filter": "datum.p == 'Educ~IV'"}],
             "layer": [
               {"mark": {"type": "rect", "fill": "white", "stroke": "#E3E3E3", "strokeWidth": 2, "clip": true}, "encoding": {}},
               {"mark": {"type": "text", "font": "DejaVu Sans", "fontSize": 27, "color": "#595959", "lineBreak": "\n", "lineHeight": 42, "dy": -18, "align": "center", "baseline": "middle"}, "encoding": {"text": {"field": "label"}}}
             ]},
            {"width": 43, "height": 130, "view": {"fill": "#D9D9D9", "stroke": null}, "data": {"name": "strips"}, "transform": [{"filter": "datum.id == 'r4'"}], "mark": {"type": "text", "font": "DejaVu Sans", "fontSize": 23, "color": "#1A1A1A", "angle": 90, "align": "center", "baseline": "middle"}, "encoding": {"text": {"field": "label"}}}
          ],
          "spacing": 0
        }
      ],
      "spacing": 17
    },
    {
      "hconcat": [
        {"width": 188, "height": 124, "view": {"fill": "#EBEBEB", "stroke": null},
         "layer": [
           {"data": {"name": "obs"}, "mark": {"type": "circle", "size": 95, "color": "#000000", "opacity": 1, "clip": true},
            "encoding": {"x": {"field": "YEAR", "type": "quantitative", "scale": {"domain": [2002.3, 2017.7], "nice": false, "zero": false}, "axis": {"values": [2004.7, 2007.2, 2009.7, 2012.2, 2014.7, 2017.2], "title": null}},
                         "y": {"field": "IV", "type": "quantitative", "scale": {"domain": [4.615, 100], "nice": false, "zero": false}, "axis": {"values": [6.7, 16.9, 27.7, 38.7, 50.2, 61.8, 73.3, 84.8, 95.1], "title": null}}}},
           {"data": {"name": "fit"}, "transform": [{"filter": "datum.p == 'IV~YEAR'"}], "mark": {"type": "area", "color": "#999999", "opacity": 0.4, "interpolate": "monotone", "clip": true},
            "encoding": {"x": {"field": "x", "type": "quantitative", "scale": {"domain": [2002.3, 2017.7], "nice": false, "zero": false}, "axis": {"values": [2004.7, 2007.2, 2009.7, 2012.2, 2014.7, 2017.2], "title": null}},
                         "y": {"field": "lo", "type": "quantitative", "scale": {"domain": [4.615, 100], "nice": false, "zero": false}, "axis": {"values": [6.7, 16.9, 27.7, 38.7, 50.2, 61.8, 73.3, 84.8, 95.1], "title": null}}, "y2": {"field": "hi"}}},
           {"data": {"name": "fit"}, "transform": [{"filter": "datum.p == 'IV~YEAR'"}], "mark": {"type": "line", "color": "#000000", "strokeWidth": 2.8, "clip": true},
            "encoding": {"x": {"field": "x", "type": "quantitative", "scale": {"domain": [2002.3, 2017.7], "nice": false, "zero": false}, "axis": {"values": [2004.7, 2007.2, 2009.7, 2012.2, 2014.7, 2017.2], "title": null}},
                         "y": {"field": "fit", "type": "quantitative", "scale": {"domain": [4.615, 100], "nice": false, "zero": false}, "axis": {"values": [6.7, 16.9, 27.7, 38.7, 50.2, 61.8, 73.3, 84.8, 95.1], "title": null}}}}
         ]},
        {"width": 188, "height": 124, "view": {"fill": "#EBEBEB", "stroke": null},
         "layer": [
           {"data": {"name": "obs"}, "mark": {"type": "circle", "size": 95, "color": "#000000", "opacity": 1, "clip": true},
            "encoding": {"x": {"field": "PIB", "type": "quantitative", "scale": {"domain": [0, 100], "nice": false, "zero": false}, "axis": {"values": [11.7, 24.4, 37.0, 49.6, 62.3, 75.0, 87.6, 99.3], "title": null}},
                         "y": {"field": "IV", "type": "quantitative", "scale": {"domain": [4.615, 100], "nice": false, "zero": false}, "axis": {"values": [6.7, 16.9, 27.7, 38.7, 50.2, 61.8, 73.3, 84.8, 95.1], "title": null}}}},
           {"data": {"name": "fit"}, "transform": [{"filter": "datum.p == 'IV~PIB'"}], "mark": {"type": "area", "color": "#999999", "opacity": 0.4, "interpolate": "monotone", "clip": true},
            "encoding": {"x": {"field": "x", "type": "quantitative", "scale": {"domain": [0, 100], "nice": false, "zero": false}, "axis": {"values": [11.7, 24.4, 37.0, 49.6, 62.3, 75.0, 87.6, 99.3], "title": null}},
                         "y": {"field": "lo", "type": "quantitative", "scale": {"domain": [4.615, 100], "nice": false, "zero": false}, "axis": {"values": [6.7, 16.9, 27.7, 38.7, 50.2, 61.8, 73.3, 84.8, 95.1], "title": null}}, "y2": {"field": "hi"}}},
           {"data": {"name": "fit"}, "transform": [{"filter": "datum.p == 'IV~PIB'"}], "mark": {"type": "line", "color": "#000000", "strokeWidth": 2.8, "clip": true},
            "encoding": {"x": {"field": "x", "type": "quantitative", "scale": {"domain": [0, 100], "nice": false, "zero": false}, "axis": {"values": [11.7, 24.4, 37.0, 49.6, 62.3, 75.0, 87.6, 99.3], "title": null}},
                         "y": {"field": "fit", "type": "quantitative", "scale": {"domain": [4.615, 100], "nice": false, "zero": false}, "axis": {"values": [6.7, 16.9, 27.7, 38.7, 50.2, 61.8, 73.3, 84.8, 95.1], "title": null}}}}
         ]},
        {"width": 188, "height": 124, "view": {"fill": "#EBEBEB", "stroke": null},
         "layer": [
           {"data": {"name": "obs"}, "mark": {"type": "circle", "size": 95, "color": "#000000", "opacity": 1, "clip": true},
            "encoding": {"x": {"field": "InvTic", "type": "quantitative", "scale": {"domain": [0, 100], "nice": false, "zero": false}, "axis": {"values": [2.1, 13.6, 26.4, 37.9, 50.8, 62.3, 73.8, 85.4, 97.0], "title": null}},
                         "y": {"field": "IV", "type": "quantitative", "scale": {"domain": [4.615, 100], "nice": false, "zero": false}, "axis": {"values": [6.7, 16.9, 27.7, 38.7, 50.2, 61.8, 73.3, 84.8, 95.1], "title": null}}}},
           {"data": {"name": "fit"}, "transform": [{"filter": "datum.p == 'IV~InvTic'"}], "mark": {"type": "area", "color": "#999999", "opacity": 0.4, "interpolate": "monotone", "clip": true},
            "encoding": {"x": {"field": "x", "type": "quantitative", "scale": {"domain": [0, 100], "nice": false, "zero": false}, "axis": {"values": [2.1, 13.6, 26.4, 37.9, 50.8, 62.3, 73.8, 85.4, 97.0], "title": null}},
                         "y": {"field": "lo", "type": "quantitative", "scale": {"domain": [4.615, 100], "nice": false, "zero": false}, "axis": {"values": [6.7, 16.9, 27.7, 38.7, 50.2, 61.8, 73.3, 84.8, 95.1], "title": null}}, "y2": {"field": "hi"}}},
           {"data": {"name": "fit"}, "transform": [{"filter": "datum.p == 'IV~InvTic'"}], "mark": {"type": "line", "color": "#000000", "strokeWidth": 2.8, "clip": true},
            "encoding": {"x": {"field": "x", "type": "quantitative", "scale": {"domain": [0, 100], "nice": false, "zero": false}, "axis": {"values": [2.1, 13.6, 26.4, 37.9, 50.8, 62.3, 73.8, 85.4, 97.0], "title": null}},
                         "y": {"field": "fit", "type": "quantitative", "scale": {"domain": [4.615, 100], "nice": false, "zero": false}, "axis": {"values": [6.7, 16.9, 27.7, 38.7, 50.2, 61.8, 73.3, 84.8, 95.1], "title": null}}}}
         ]},
        {"width": 188, "height": 124, "view": {"fill": "#EBEBEB", "stroke": null},
         "layer": [
           {"data": {"name": "obs"}, "mark": {"type": "circle", "size": 95, "color": "#000000", "opacity": 1, "clip": true},
            "encoding": {"x": {"field": "Educ", "type": "quantitative", "scale": {"domain": [0, 100], "nice": false, "zero": false}, "axis": {"values": [0.5, 12.5, 24.9, 37.2, 49.2, 62.1, 74.1, 86.4, 98.6], "title": null}},
                         "y": {"field": "IV", "type": "quantitative", "scale": {"domain": [4.615, 100], "nice": false, "zero": false}, "axis": {"values": [6.7, 16.9, 27.7, 38.7, 50.2, 61.8, 73.3, 84.8, 95.1], "title": null}}}},
           {"data": {"name": "fit"}, "transform": [{"filter": "datum.p == 'IV~Educ'"}], "mark": {"type": "area", "color": "#999999", "opacity": 0.4, "interpolate": "monotone", "clip": true},
            "encoding": {"x": {"field": "x", "type": "quantitative", "scale": {"domain": [0, 100], "nice": false, "zero": false}, "axis": {"values": [0.5, 12.5, 24.9, 37.2, 49.2, 62.1, 74.1, 86.4, 98.6], "title": null}},
                         "y": {"field": "lo", "type": "quantitative", "scale": {"domain": [4.615, 100], "nice": false, "zero": false}, "axis": {"values": [6.7, 16.9, 27.7, 38.7, 50.2, 61.8, 73.3, 84.8, 95.1], "title": null}}, "y2": {"field": "hi"}}},
           {"data": {"name": "fit"}, "transform": [{"filter": "datum.p == 'IV~Educ'"}], "mark": {"type": "line", "color": "#000000", "strokeWidth": 2.8, "clip": true},
            "encoding": {"x": {"field": "x", "type": "quantitative", "scale": {"domain": [0, 100], "nice": false, "zero": false}, "axis": {"values": [0.5, 12.5, 24.9, 37.2, 49.2, 62.1, 74.1, 86.4, 98.6], "title": null}},
                         "y": {"field": "fit", "type": "quantitative", "scale": {"domain": [4.615, 100], "nice": false, "zero": false}, "axis": {"values": [6.7, 16.9, 27.7, 38.7, 50.2, 61.8, 73.3, 84.8, 95.1], "title": null}}}}
         ]},
        {
          "hconcat": [
            {"width": 188, "height": 124, "view": {"fill": "#EBEBEB", "stroke": null}, "data": {"name": "hist"}, "transform": [{"filter": "datum.v == 'IV'"}],
             "mark": {"type": "rect", "color": "#595959", "clip": true},
             "encoding": {
               "x": {"field": "bin", "type": "quantitative", "scale": {"domain": [-1.5, 31.5], "nice": false, "zero": false}, "axis": {"values": [0.74, 5.6, 10.46, 15.3, 20.2, 25.05, 29.9], "title": null}},
               "x2": {"field": "bin_end"},
               "y": {"field": "count", "type": "quantitative", "scale": {"domain": [0, 2.1], "nice": false, "zero": false}, "axis": {"values": [0.25, 0.5, 0.75, 1, 1.25, 1.5, 1.75, 2], "title": null}},
               "y2": {"datum": 0}}},
            {"width": 43, "height": 124, "view": {"fill": "#D9D9D9", "stroke": null}, "data": {"name": "strips"}, "transform": [{"filter": "datum.id == 'r5'"}], "mark": {"type": "text", "font": "DejaVu Sans", "fontSize": 23, "color": "#1A1A1A", "angle": 90, "align": "center", "baseline": "middle"}, "encoding": {"text": {"field": "label"}}}
          ],
          "spacing": 0
        }
      ],
      "spacing": 17
    }
  ],
  "spacing": 13
}
